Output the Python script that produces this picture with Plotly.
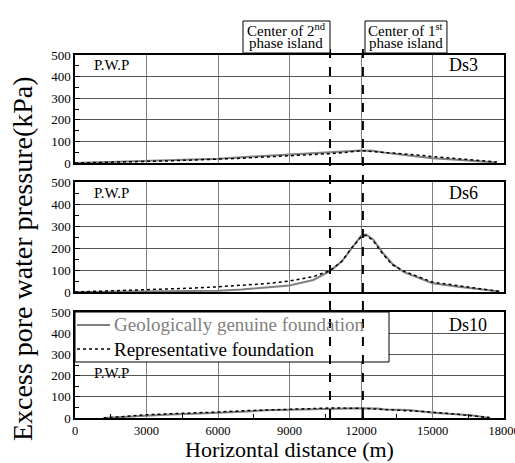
import plotly.graph_objects as go

# ---- data ----
ds3_x_g = [0, 1000, 2000, 3000, 4000, 5000, 6000, 7000, 8000, 9000, 10000, 11000, 12000, 12500, 13000, 14000, 15000, 16000, 17000, 17700]
ds3_y_g = [0, 3, 7, 10, 15, 18, 20, 27, 33, 38, 45, 52, 58, 57, 48, 35, 22, 15, 8, 2]
ds3_x_r = [0, 1000, 2000, 3000, 4000, 5000, 6000, 7000, 8000, 9000, 10000, 11000, 12000, 13000, 14000, 15000, 16000, 17000, 17700]
ds3_y_r = [0, 2, 5, 7, 10, 14, 17, 22, 28, 33, 38, 45, 57, 50, 40, 30, 22, 14, 5]

ds6_x = [0, 1000, 2000, 3000, 4000, 5000, 6000, 7000, 8000, 9000, 10000, 10700, 11200, 11600, 12000, 12200, 12500, 12900, 13300, 13800, 14500, 15000, 16000, 17000, 17800]
ds6_y_g = [0, 1, 2, 3, 4, 5, 6, 12, 20, 30, 55, 95, 140, 200, 255, 262, 240, 180, 130, 90, 60, 40, 25, 12, 3]
ds6_y_r = [0, 3, 6, 10, 14, 18, 24, 30, 38, 50, 70, 97, 140, 200, 250, 258, 235, 175, 125, 95, 65, 45, 30, 15, 3]

ds10_x = [1200, 2000, 3000, 4000, 5000, 6000, 7000, 8000, 9000, 10000, 10700, 12000, 12700, 13000, 14000, 15000, 16000, 16700, 17400]
ds10_y_g = [0, 5, 12, 17, 20, 24, 30, 36, 39, 41, 44, 46, 45, 40, 38, 25, 18, 12, 0]
ds10_y_r = [0, 7, 15, 20, 23, 28, 34, 38, 40, 46, 47, 46, 42, 38, 35, 28, 18, 10, 2]

island_x = [10700, 12080]
island_line1 = ["Center of 2<sup>nd</sup>", "Center of 1<sup>st</sup>"]
island_line2 = ["phase island", "phase island"]
panel_labels = ["Ds3", "Ds6", "Ds10"]
legend_names = ["Geologically genuine foundation", "Representative foundation"]
x_ticks = [0, 3000, 6000, 9000, 12000, 15000, 18000]
x_ticktext = ["0", "3000", "6000", "9000", "12000", "15000", "18000"]
y_ticks = [0, 100, 200, 300, 400, 500]

FONT = "Liberation Serif, Times New Roman, DejaVu Serif, serif"
GRAY = "#808080"

fig = go.Figure()

series = [
    (ds3_x_g, ds3_y_g, ds3_x_r, ds3_y_r),
    (ds6_x, ds6_y_g, ds6_x, ds6_y_r),
    (ds10_x, ds10_y_g, ds10_x, ds10_y_r),
]
for i, (xg, yg, xr, yr) in enumerate(series):
    n = "" if i == 0 else str(i + 1)
    fig.add_trace(go.Scatter(x=xg, y=yg, mode="lines", xaxis="x" + n, yaxis="y" + n,
                             line=dict(color=GRAY, width=2), name=legend_names[0], showlegend=False))
    fig.add_trace(go.Scatter(x=xr, y=yr, mode="lines", xaxis="x" + n, yaxis="y" + n,
                             line=dict(color="black", width=1.5, dash="dot"),
                             name=legend_names[1], showlegend=False))

domains = [[0.7025, 1.0], [0.347, 0.650], [0.0, 0.292]]
layout = {}
for i, d in enumerate(domains):
    n = "" if i == 0 else str(i + 1)
    xa = dict(
        domain=[0, 1], range=[0, 18000], anchor="y" + n, automargin=False,
        tickvals=x_ticks, ticktext=x_ticktext, showticklabels=(i == 2), ticks="",
        ticklabeloverflow="allow",
        showgrid=True, gridcolor=GRAY, gridwidth=1,
        showline=True, linecolor="black", linewidth=1.5, mirror=True,
        zeroline=False, tickfont=dict(family=FONT, size=12.5, color="black"),
    )
    if i == 2:
        xa["minor"] = dict(tick0=1500, dtick=3000, ticks="inside", ticklen=4, tickcolor="black", showgrid=False)
    layout["xaxis" + n] = xa
    layout["yaxis" + n] = dict(
        domain=d, range=[0, 500], anchor="x" + n, automargin=False,
        tickvals=y_ticks, ticks="inside", ticklen=5, tickcolor="black",
        showgrid=True, gridcolor="#555555", gridwidth=1,
        showline=True, linecolor="black", linewidth=1.5, mirror=True,
        zeroline=False, tickfont=dict(family=FONT, size=13, color="black"),
        minor=dict(dtick=50, ticks="inside", ticklen=4, tickcolor="black", showgrid=False),
    )

fig.update_layout(**layout)

shapes = []
# legend box (inside Ds10 panel)
shapes.append(dict(type="rect", xref="paper", yref="paper", x0=0, x1=0.732, y0=0.1543, y1=0.292,
                   line=dict(color="black", width=1), fillcolor="white", layer="above"))
shapes.append(dict(type="line", xref="paper", yref="paper", x0=0.0047, x1=0.0816, y0=0.2562, y1=0.2562,
                   line=dict(color=GRAY, width=2), layer="above"))
shapes.append(dict(type="line", xref="paper", yref="paper", x0=0.0047, x1=0.0816, y0=0.190, y1=0.190,
                   line=dict(color="black", width=1.5, dash="dot"), layer="above"))
for xv in island_x:
    shapes.append(dict(type="line", xref="x3", yref="paper", x0=xv, x1=xv, y0=0, y1=1.022,
                       line=dict(color="black", width=2, dash="dash"), layer="above"))
box_x = [(0.3916, 0.5944), (0.676, 0.867)]
for x0, x1 in box_x:
    shapes.append(dict(type="rect", xref="paper", yref="paper", x0=x0, x1=x1, y0=1.0055, y1=1.0937,
                       line=dict(color="black", width=1), fillcolor="white", layer="above"))
fig.update_layout(shapes=shapes)

annotations = []
for (x0, x1), t1, t2 in zip(box_x, island_line1, island_line2):
    xc = (x0 + x1) / 2
    annotations.append(dict(xref="paper", yref="paper", x=xc, y=1.068, text=t1, showarrow=False,
                            xanchor="center", yanchor="middle",
                            font=dict(family=FONT, size=15, color="black")))
    annotations.append(dict(xref="paper", yref="paper", x=xc, y=1.033, text=t2, showarrow=False,
                            xanchor="center", yanchor="middle",
                            font=dict(family=FONT, size=15, color="black")))
pwp_y = [0.9727, 0.620, 0.1240]
ds_y = [0.9727, 0.620, 0.2562]
for i in range(3):
    annotations.append(dict(xref="paper", yref="paper", x=0.0396, y=pwp_y[i], text="P.W.P", showarrow=False,
                            xanchor="left", yanchor="middle",
                            font=dict(family=FONT, size=15, color="black")))
    annotations.append(dict(xref="paper", yref="paper", x=0.867, y=ds_y[i], text=panel_labels[i], showarrow=False,
                            xanchor="left", yanchor="middle",
                            font=dict(family=FONT, size=18, color="black")))
# legend texts
annotations.append(dict(xref="paper", yref="paper", x=0.0862, y=0.2562, text=legend_names[0], showarrow=False,
                        xanchor="left", yanchor="middle", font=dict(family=FONT, size=19, color=GRAY)))
annotations.append(dict(xref="paper", yref="paper", x=0.0862, y=0.190, text=legend_names[1], showarrow=False,
                        xanchor="left", yanchor="middle", font=dict(family=FONT, size=19, color="black")))
annotations.append(dict(xref="paper", yref="paper", x=-0.124, y=0.44, text="Excess pore water pressure(kPa)",
                        showarrow=False, textangle=-90, xanchor="center", yanchor="middle",
                        font=dict(family=FONT, size=28, color="black")))
annotations.append(dict(xref="paper", yref="paper", x=0.5, y=-0.0865, text="Horizontal distance (m)",
                        showarrow=False, xanchor="center", yanchor="middle",
                        font=dict(family=FONT, size=22, color="black")))
fig.update_layout(annotations=annotations)

fig.update_layout(
    width=515, height=463,
    margin=dict(l=75, r=11, t=55, b=45),
    paper_bgcolor="white", plot_bgcolor="white",
    font=dict(family=FONT, color="black"),
    showlegend=False,
)

fig.write_html("out.html", config={"displayModeBar": False},
               post_script="document.body.style.margin='0';document.body.style.padding='0';")
